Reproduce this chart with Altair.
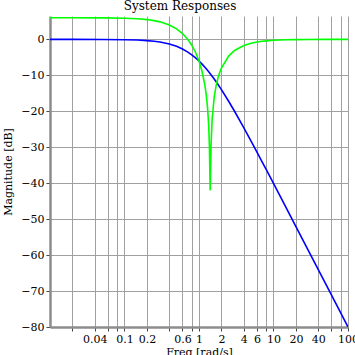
import altair as alt
import pandas as pd

# Frequencies [rad/s]
freq = [0.01, 0.02, 0.05, 0.1, 0.15, 0.2, 0.25, 0.3, 0.4, 0.5, 0.6, 0.7, 0.8, 0.9,
        1.0, 1.1, 1.2, 1.25, 1.3, 1.35, 1.38, 1.40, 1.414, 1.43, 1.45, 1.5, 1.6,
        1.7, 1.8, 1.9, 2.0, 2.5, 3, 4, 5, 6, 7, 8, 10, 15, 20, 30, 50, 70, 100]

# Low-pass response magnitude [dB] (blue)
lowpass = [0.0, -0.002, -0.022, -0.086, -0.193, -0.341, -0.527, -0.749, -1.289,
           -1.938, -2.671, -3.464, -4.297, -5.154, -6.021, -6.888, -7.748, -8.173,
           -8.595, -9.013, -9.262, -9.426, -9.541, -9.671, -9.834, -10.238, -11.029,
           -11.799, -12.547, -13.274, -13.979, -17.207, -20.0, -24.609, -28.299,
           -31.364, -33.979, -36.258, -40.086, -47.084, -52.063, -59.094, -67.962,
           -73.806, -80.0]

# Notch response magnitude [dB] (green)
notch = [6.020, 6.017, 5.988, 5.891, 5.729, 5.504, 5.218, 4.873, 4.007, 2.923,
         1.626, 0.116, -1.626, -3.643, -6.021, -8.935, -12.784, -15.353, -18.768,
         -24.029, -29.653, -37.385, -42.0, -36.63, -29.620, -22.279, -16.065,
         -12.811, -10.679, -9.137, -7.959, -4.639, -3.098, -1.686, -1.064, -0.734,
         -0.537, -0.410, -0.261, -0.117, -0.065, -0.029, -0.010, -0.005, -0.002]

series_names = ["lowpass", "notch"]
series_colors = ["#0000ff", "#00ff00"]

x_grid = [0.02, 0.04, 0.06, 0.08, 0.1, 0.2, 0.4, 0.6, 0.8, 1, 2, 4, 6, 8,
          10, 20, 40, 60, 80, 100]
x_labels = [0.04, 0.1, 0.2, 0.6, 1, 2, 4, 6, 10, 20, 40, 100]
y_ticks = [0, -10, -20, -30, -40, -50, -60, -70, -80]

rows = []
for i, f in enumerate(freq):
    rows.append({"freq": f, "mag": lowpass[i], "series": "lowpass", "order": 0})
    rows.append({"freq": f, "mag": notch[i], "series": "notch", "order": 1})
df = pd.DataFrame(rows)

FONT = "DejaVu Serif"
label_list = ",".join(str(v) for v in x_labels)

chart = alt.Chart(df).mark_line(strokeWidth=1.6, clip=True).encode(
    x=alt.X("freq:Q",
            scale=alt.Scale(type="log", domain=[0.01, 100], nice=False),
            axis=alt.Axis(values=x_grid, format="~g",
                          labelExpr=f"indexof([{label_list}], datum.value) >= 0 ? datum.label : ''",
                          labelOverlap=False, labelFlush=False,
                          title="Freq [rad/s]", titlePadding=2)),
    y=alt.Y("mag:Q",
            scale=alt.Scale(domain=[-80, 6.5], nice=False, zero=False),
            axis=alt.Axis(values=y_ticks, title="Magnitude [dB]", titlePadding=7)),
    color=alt.Color("series:N",
                    scale=alt.Scale(domain=series_names, range=series_colors),
                    legend=None),
    order=alt.Order("order:Q"),
    detail="series:N",
).properties(
    width=298,
    height=311,
    autosize=alt.AutoSizeParams(type="none"),
    padding={"left": 50, "top": 16, "right": 7, "bottom": 28},
    title=alt.TitleParams("System Responses", font=FONT, fontSize=12,
                          fontWeight="normal", color="#000", offset=3, dx=-19),
).configure_view(
    stroke=None
).configure_axis(
    labelFont=FONT, titleFont=FONT, labelFontSize=11, titleFontSize=11,
    titleFontWeight="normal", labelColor="#000", titleColor="#000",
    gridColor="#a0a0a0", gridWidth=1, gridOpacity=1,
    domainColor="#8c8c8c", domainWidth=2.5,
    tickColor="#444", tickSize=4, tickWidth=1,
    labelPadding=2,
)

chart.save("out.html", embed_options={"renderer": "svg", "actions": False})
